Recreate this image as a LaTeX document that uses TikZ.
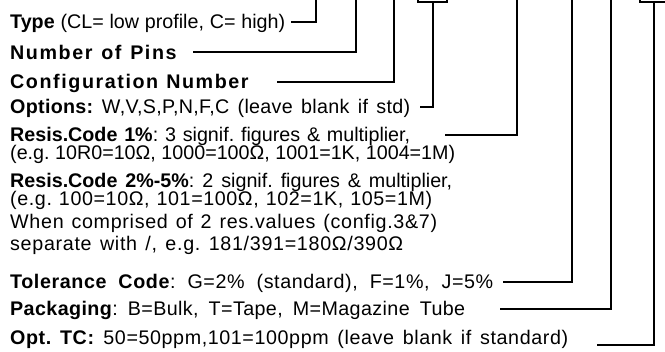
\documentclass[tikz,border=0pt]{standalone}
\usepackage{fontspec}
\setmainfont{Liberation Sans}
\newcommand{\lsp}[1]{\addfontfeature{LetterSpace=#1}}
\begin{document}
\begin{tikzpicture}[x=1pt,y=-1pt,
  txt/.style={anchor=base west, inner sep=0pt, font=\fontsize{19.7}{19.7}\selectfont\frenchspacing},
  conn/.style={line width=2pt, line join=miter}]
\useasboundingbox (0,0) rectangle (665,352);
% text rows
\node[txt] (r1) at (10,29) {\makebox[275pt][s]{\textbf{Type} (CL= low profile, C= high)}};
\node[txt] (r2) at (10,60) {\makebox[168pt][s]{\textbf{\lsp{8}Number of Pins}}};
\node[txt] (r3) at (10,89) {\makebox[240pt][s]{\textbf{\lsp{8}Configuration Number}}};
\node[txt] (r4) at (10,114) {\makebox[400pt][s]{\lsp{1.5}\textbf{Options:} W,V,S,P,N,F,C (leave blank if std)}};
\node[txt] (r5) at (10,142) {\makebox[400pt][s]{\textbf{Resis.Code 1\%}: 3 signif. figures \& multiplier,}};
\node[txt] (r6) at (10,160) {\makebox[445pt][s]{(e.g. 10R0=10Ω, 1000=100Ω, 1001=1K, 1004=1M)}};
\node[txt] (r7) at (10,188) {\makebox[442pt][s]{\textbf{Resis.Code 2\%-5\%}: 2 signif. figures \& multiplier,}};
\node[txt] (r8) at (10,206) {\makebox[422pt][s]{\lsp{3}(e.g. 100=10Ω, 101=100Ω, 102=1K, 105=1M)}};
\node[txt] (r9) at (10,229) {\makebox[427pt][s]{\lsp{3.5}When comprised of 2 res.values (config.3\&7)}};
\node[txt] (r10) at (10,251) {\makebox[393pt][s]{\lsp{3.5}separate with /, e.g. 181/391=180Ω/390Ω}};
\node[txt] (r11) at (10,289) {\makebox[483pt][s]{\lsp{3}\textbf{Tolerance Code}: G=2\% (standard), F=1\%, J=5\%}};
\node[txt] (r12) at (10,316) {\makebox[455pt][s]{\lsp{2}\textbf{Packaging}: B=Bulk, T=Tape, M=Magazine Tube}};
\node[txt] (r13) at (10,345) {\makebox[558pt][s]{\lsp{3}\textbf{Opt. TC:} 50=50ppm,101=100ppm (leave blank if standard)}};
% connector coordinates
\coordinate (s1) at (291,22);  \coordinate (c1) at (316,22);  \coordinate (t1) at (316,-2);
\coordinate (s2) at (193,52);  \coordinate (c2) at (356,52);  \coordinate (t2) at (356,-2);
\coordinate (s3) at (277,82);  \coordinate (c3) at (394,82);  \coordinate (t3) at (394,-2);
\coordinate (s4) at (420,107); \coordinate (c4) at (433,107); \coordinate (t4) at (433,2);
\coordinate (s5) at (445,135); \coordinate (c5) at (517,135); \coordinate (t5) at (517,-2);
\coordinate (s6) at (503,282); \coordinate (c6) at (572,282); \coordinate (t6) at (572,-2);
\coordinate (s7) at (500,309); \coordinate (c7) at (611,309); \coordinate (t7) at (611,-2);
\coordinate (s8) at (597,345); \coordinate (c8) at (654,345); \coordinate (t8) at (654,2);
\coordinate (b4l) at (418,-2); \coordinate (b4r) at (447,-2);
\coordinate (b8l) at (640,-2); \coordinate (b8r) at (668,-2);
\draw[conn] (s1) -- (c1) -- (t1);
\draw[conn] (s2) -- (c2) -- (t2);
\draw[conn] (s3) -- (c3) -- (t3);
\draw[conn] (s4) -- (c4) -- (t4);
\draw[conn] (b4l) |- (t4) -| (b4r);
\draw[conn] (s5) -- (c5) -- (t5);
\draw[conn] (s6) -- (c6) -- (t6);
\draw[conn] (s7) -- (c7) -- (t7);
\draw[conn] (s8) -- (c8) -- (t8);
\draw[conn] (b8l) |- (t8) -| (b8r);
\end{tikzpicture}
\end{document}
